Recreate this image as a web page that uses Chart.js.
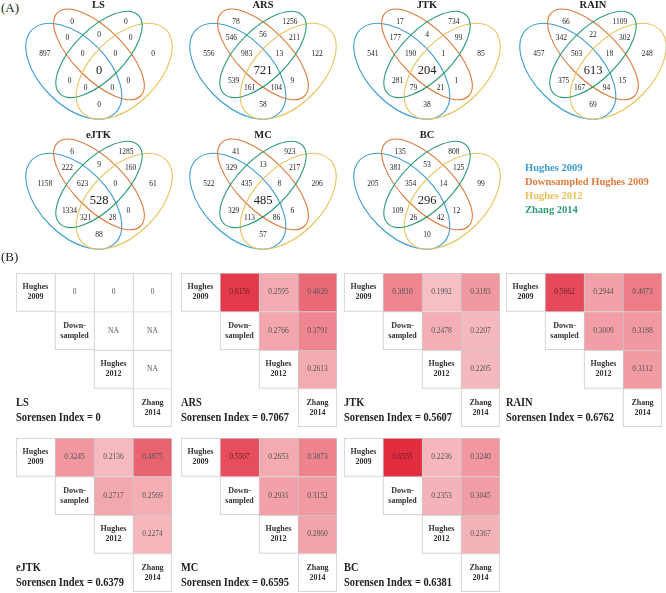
<!DOCTYPE html>
<html><head><meta charset="utf-8">
<script src="https://cdn.jsdelivr.net/npm/chart.js@4.4.0/dist/chart.umd.min.js"></script>
<style>
html,body{margin:0;padding:0;background:#fff;width:666px;height:593px;overflow:hidden;position:relative;font-family:"Liberation Serif","Times New Roman",serif;}
canvas{position:absolute;}
.t{position:absolute;white-space:nowrap;color:#222;}
</style></head><body>
<script>
// ---------- DATA ----------
const METHODS = ['LS','ARS','JTK','RAIN','eJTK','MC','BC'];
const SET_NAMES = ['Hughes 2009','Downsampled Hughes 2009','Hughes 2012','Zhang 2014'];
// A=Hughes 2009, B=Downsampled, C=Hughes 2012, D=Zhang 2014
const REGIONS = ['A','B','D','C','AB','BD','CD','ABD','BCD','ABCD','AD','BC','ACD','ABC','AC'];
const VENN_LS   = [897,0,0,0,0,0,0,0,0,0,0,0,0,0,0];
const VENN_ARS  = [556,78,1256,122,546,56,211,983,13,721,539,9,161,104,58];
const VENN_JTK  = [541,17,734,85,177,4,99,190,1,204,281,1,79,21,38];
const VENN_RAIN = [457,66,1109,248,342,22,302,503,18,613,375,15,167,94,69];
const VENN_EJTK = [1158,6,1285,61,222,9,160,623,0,528,1334,0,321,28,88];
const VENN_MC   = [522,41,923,206,329,13,217,435,8,485,329,6,113,86,57];
const VENN_BC   = [205,135,808,99,381,53,125,354,14,296,109,12,26,42,10];
const CELL_LABELS = [['Hughes','2009'],['Down-','sampled'],['Hughes','2012'],['Zhang','2014']];
// pair order: (H09,Down),(H09,H12),(H09,Zh),(Down,H12),(Down,Zh),(H12,Zh); null = NA
const PAIR_LS   = [0,0,0,null,null,null];
const PAIR_ARS  = [0.6156,0.2595,0.4620,0.2766,0.3791,0.2613];
const PAIR_JTK  = [0.3810,0.1992,0.3183,0.2478,0.2207,0.2205];
const PAIR_RAIN = [0.5662,0.2944,0.4073,0.3009,0.3188,0.3112];
const PAIR_EJTK = [0.3245,0.2136,0.4875,0.2717,0.2569,0.2274];
const PAIR_MC   = [0.5507,0.2653,0.3873,0.2931,0.3152,0.2860];
const PAIR_BC   = [0.6555,0.2236,0.3240,0.2353,0.3045,0.2367];
const SORENSEN  = [0,0.7067,0.5607,0.6762,0.6379,0.6595,0.6381];

const VENN_DATA = [VENN_LS,VENN_ARS,VENN_JTK,VENN_RAIN,VENN_EJTK,VENN_MC,VENN_BC];
const PAIR_DATA = [PAIR_LS,PAIR_ARS,PAIR_JTK,PAIR_RAIN,PAIR_EJTK,PAIR_MC,PAIR_BC];

// ---------- LAYOUT / STYLE ----------
const SET_COLORS = ['#3d9dd4','#de7a3c','#eac25c','#2e9d72'];
// ellipse geometry in unit space: x, y, a, b, rotation(deg), colour index
const ELLIPSES = [
  [0.35,0.47,0.35,0.20,135,0],
  [0.50,0.57,0.35,0.15,135,1],
  [0.65,0.47,0.35,0.20,45,2],
  [0.50,0.57,0.33,0.15,45,3]
];
const REGION_POS = [
  [0.178,0.575],[0.340,0.765],[0.660,0.765],[0.822,0.575],
  [0.312,0.665],[0.500,0.685],[0.688,0.665],
  [0.402,0.575],[0.598,0.575],[0.500,0.471],
  [0.325,0.413],[0.675,0.413],[0.420,0.371],[0.580,0.371],[0.500,0.271]
];
const VENN_CENTERS = [[98.5,71],[263,71],[427,71],[593,71],[98.5,201],[263,201],[427,201]];
const HEAT_ORIGINS = [[16,273],[181,273],[344,273],[506,273],[16,438],[181,438],[344,438]];
const VW = 168, VH = 121;
const HW = 156, HH = 154;

function addText(txt, left, top, css){
  const d = document.createElement('div');
  d.className = 't';
  d.textContent = txt;
  d.style.left = left+'px'; d.style.top = top+'px';
  Object.assign(d.style, css||{});
  document.body.appendChild(d);
  return d;
}
function addCanvas(left, top, w, h){
  const c = document.createElement('canvas');
  c.width = w; c.height = h;
  c.style.left = left+'px'; c.style.top = top+'px';
  c.style.width = w+'px'; c.style.height = h+'px';
  document.body.appendChild(c);
  return c;
}
function fmt(v){ return v === null ? 'NA' : (v === 0 ? '0' : v.toFixed(4)); }
function heatColor(v){
  if (v === null || v === 0) return '#ffffff';
  const t = Math.min(1, v/0.67);
  return 'rgb('+Math.round(255-30*t)+','+Math.round(255-215*t)+','+Math.round(255-197*t)+')';
}
function pairIndex(r,c){ return [[-1,0,1,2],[-1,-1,3,4],[-1,-1,-1,5]][r][c]; }

const vennPlugin = {
  id:'venn',
  beforeDatasetsDraw(chart){
    const {ctx, scales:{x,y}} = chart;
    const kx = x.getPixelForValue(1)-x.getPixelForValue(0);
    const ky = y.getPixelForValue(0)-y.getPixelForValue(1);
    ctx.save();
    ctx.lineWidth = 1.1;
    ELLIPSES.forEach(e=>{
      ctx.beginPath();
      ctx.strokeStyle = SET_COLORS[e[5]];
      ctx.ellipse(x.getPixelForValue(e[0]), y.getPixelForValue(e[1]), e[2]*kx, e[3]*ky, -e[4]*Math.PI/180, 0, 2*Math.PI);
      ctx.stroke();
    });
    ctx.restore();
  },
  afterDatasetsDraw(chart){
    const {ctx} = chart;
    const ds = chart.data.datasets[0];
    const meta = chart.getDatasetMeta(0);
    ctx.save();
    ctx.textAlign = 'center'; ctx.textBaseline = 'middle';
    ctx.fillStyle = '#222';
    meta.data.forEach((pt,i)=>{
      const big = REGIONS[i] === 'ABCD';
      ctx.font = big ? '12.5px "Liberation Serif"' : '7.5px "Liberation Serif"';
      ctx.fillText(String(ds.counts[i]), pt.x, pt.y);
    });
    ctx.restore();
  }
};

const heatPlugin = {
  id:'heat',
  afterDatasetsDraw(chart){
    const {ctx} = chart;
    const vals = chart.data.datasets[0].pairs;
    ctx.save();
    ctx.textAlign = 'center'; ctx.textBaseline = 'middle';
    chart.data.datasets.forEach((ds,r)=>{
      const meta = chart.getDatasetMeta(r);
      meta.data.forEach((el,c)=>{
        if (c < r) return;
        const cx = el.x, cy = (el.y + el.base)/2;
        if (c === r){
          ctx.font = 'bold 8px "Liberation Serif"';
          ctx.fillStyle = '#333';
          ctx.fillText(CELL_LABELS[r][0], cx, cy-5);
          ctx.fillText(CELL_LABELS[r][1], cx, cy+5);
        } else {
          const v = vals[pairIndex(r,c)];
          ctx.font = '7.5px "Liberation Serif"';
          ctx.fillStyle = (v !== null && v > 0.5) ? '#6a1f25' : '#555';
          ctx.fillText(fmt(v), cx, cy);
        }
      });
    });
    ctx.restore();
  }
};

const common = {
  responsive:false, animation:false, devicePixelRatio:1, events:[],
  layout:{padding:0},
  plugins:{legend:{display:false}, tooltip:{enabled:false}, title:{display:false}}
};

// ---------- VENN PANELS ----------
addText('(A)', 1, 0, {fontSize:'13px', lineHeight:'15px', color:'#222'});
METHODS.forEach((m,k)=>{
  const [cx,cy] = VENN_CENTERS[k];
  const left = cx - VW/2, top = cy - (0.87-0.471)*VW;
  const cv = addCanvas(Math.round(left), Math.round(top), VW, VH);
  new Chart(cv, {
    type:'scatter',
    data:{datasets:[{
      data: REGION_POS.map(p=>({x:p[0], y:p[1]})),
      counts: VENN_DATA[k],
      pointRadius:0
    }]},
    options:Object.assign({}, common, {
      scales:{
        x:{type:'linear', min:0, max:1, display:false},
        y:{type:'linear', min:0.15, max:0.87, display:false}
      }
    }),
    plugins:[vennPlugin]
  });
  const ty = k < 4 ? -1 : 129;
  addText(m, cx-40, ty, {width:'80px', textAlign:'center', fontSize:'10.5px', lineHeight:'12px', fontWeight:'bold', color:'#222'});
});
// legend
SET_NAMES.forEach((n,i)=>{
  addText(n, 525, 161 + i*14, {fontSize:'10.5px', lineHeight:'14px', fontWeight:'bold', color:SET_COLORS[i]});
});

// ---------- HEATMAP PANELS ----------
addText('(B)', 1, 249, {fontSize:'13px', lineHeight:'15px', color:'#222'});
const LBL = {fontSize:'13px', lineHeight:'15px', fontWeight:'bold', color:'#222', transform:'scaleX(0.8)', transformOrigin:'0 50%'};
METHODS.forEach((m,k)=>{
  const [ox,oy] = HEAT_ORIGINS[k];
  const cv = addCanvas(ox, oy, HW, HH);
  const vals = PAIR_DATA[k];
  const datasets = [0,1,2,3].map(r=>({
    data:[0,1,2,3].map(c=> c>=r ? [r, r+1] : null),
    pairs: vals,
    backgroundColor:[0,1,2,3].map(c=> c>r ? heatColor(vals[pairIndex(r,c)]) : '#ffffff'),
    borderColor:'#c9c9c9',
    borderWidth:[0,1,2,3].map(c=>({left:1, top:1, right:c===3?1:0, bottom:c===r?1:0})),
    borderSkipped:false,
    barPercentage:1, categoryPercentage:1
  }));
  new Chart(cv, {
    type:'bar',
    data:{labels:['Hughes 2009','Downsampled','Hughes 2012','Zhang 2014'], datasets},
    options:Object.assign({}, common, {
      scales:{
        x:{type:'category', stacked:true, display:false},
        y:{type:'linear', min:0, max:4, reverse:true, stacked:false, display:false}
      }
    }),
    plugins:[heatPlugin]
  });
  addText(m, ox, oy+121, LBL);
  addText('Sorensen Index = ' + fmt(SORENSEN[k]), ox, oy+136, LBL);
});
</script>
</body></html>
